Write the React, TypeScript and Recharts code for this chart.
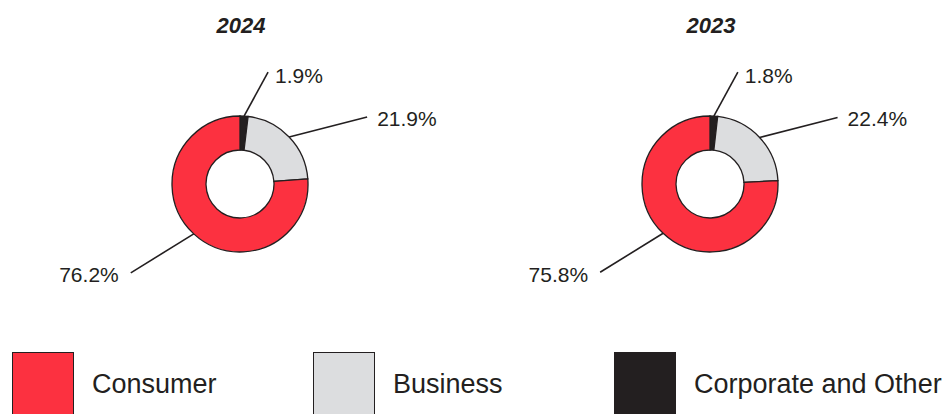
import React from "react";
import { PieChart, Pie, Cell, Legend, Customized } from "recharts";

// segment order as drawn clockwise from 12 o'clock
const segments = ["Corporate and Other", "Business", "Consumer"];
const years = ["2024", "2023"];
const share2024 = [1.9, 21.9, 76.2];
const share2023 = [1.8, 22.4, 75.8];
const legendOrder = ["Consumer", "Business", "Corporate and Other"];

const colors: Record<string, string> = {
  "Corporate and Other": "#231f20",
  Business: "#dcdddf",
  Consumer: "#fc3140",
};

const ink = "#231f20";
const font = "'Liberation Sans', Arial, Helvetica, sans-serif";

const data2024 = segments.map((name, i) => ({ name, value: share2024[i] }));
const data2023 = segments.map((name, i) => ({ name, value: share2023[i] }));

// leader line end relative to the slice's outer edge, per slice
const leader = [
  { dx: 24, dy: -44, tx: 7, ty: 5, anchor: "start" },
  { dx: 78, dy: -20, tx: 10, ty: 3, anchor: "start" },
  { dx: -63, dy: 39, tx: -12, ty: 4, anchor: "end" },
];

const RAD = Math.PI / 180;

const renderLabel = (props: any) => {
  const { cx, cy, midAngle, outerRadius, index, value } = props;
  const sx = cx + outerRadius * Math.cos(-midAngle * RAD);
  const sy = cy + outerRadius * Math.sin(-midAngle * RAD);
  const l = leader[index];
  const ex = sx + l.dx;
  const ey = sy + l.dy;
  return (
    <g key={`lbl-${index}`}>
      <line x1={sx} y1={sy} x2={ex} y2={ey} stroke={ink} strokeWidth={1.6} />
      <text
        x={ex + l.tx}
        y={ey + l.ty}
        textAnchor={l.anchor}
        dominantBaseline="middle"
        fontFamily={font}
        fontSize={21}
        fill={ink}
      >
        {value.toFixed(1)}%
      </text>
    </g>
  );
};

const Titles = () => (
  <g>
    {years.map((y, i) => (
      <text
        key={y}
        x={i === 0 ? 241 : 711}
        y={33}
        textAnchor="middle"
        fontFamily={font}
        fontSize={22}
        fontWeight="bold"
        fontStyle="italic"
        fill={ink}
      >
        {y}
      </text>
    ))}
  </g>
);

const LegendContent = () => (
  <div style={{ display: "flex", fontFamily: font, whiteSpace: "nowrap" }}>
    {legendOrder.map((name) => (
      <div
        key={name}
        style={{
          display: "flex",
          alignItems: "center",
          flex: "none",
          width: name === "Corporate and Other" ? 340 : 301,
          marginLeft: name === "Consumer" ? 12 : 0,
        }}
      >
        <div
          style={{
            width: 62,
            height: 64,
            flex: "none",
            boxSizing: "border-box",
            background: colors[name],
            border: `1.5px solid ${ink}`,
          }}
        />
        <span style={{ marginLeft: 18, fontSize: 27, color: ink, whiteSpace: "nowrap" }}>{name}</span>
      </div>
    ))}
  </div>
);

const App: React.FC = () => {
  return (
    <div style={{ position: "absolute", left: 0, top: 0, width: 952, height: 414, overflow: "hidden", background: "#fff" }}>
      <PieChart width={952} height={420} margin={{ top: 0, right: 0, bottom: 0, left: 0 }}>
        <Pie
          data={data2024}
          dataKey="value"
          nameKey="name"
          cx={240}
          cy={184}
          innerRadius={34}
          outerRadius={68}
          startAngle={90}
          endAngle={-270}
          stroke={ink}
          strokeWidth={1.3}
          label={renderLabel}
          labelLine={false}
          isAnimationActive={false}
        >
          {data2024.map((d) => (
            <Cell key={d.name} fill={colors[d.name]} />
          ))}
        </Pie>
        <Pie
          data={data2023}
          dataKey="value"
          nameKey="name"
          cx={710}
          cy={184}
          innerRadius={34}
          outerRadius={68}
          startAngle={90}
          endAngle={-270}
          stroke={ink}
          strokeWidth={1.3}
          label={renderLabel}
          labelLine={false}
          isAnimationActive={false}
        >
          {data2023.map((d) => (
            <Cell key={d.name} fill={colors[d.name]} />
          ))}
        </Pie>
        <Customized component={Titles} />
        <Legend
          content={<LegendContent />}
          wrapperStyle={{ position: "absolute", left: 0, top: 352, width: 1100, bottom: "auto" }}
        />
      </PieChart>
    </div>
  );
};

export default App;
